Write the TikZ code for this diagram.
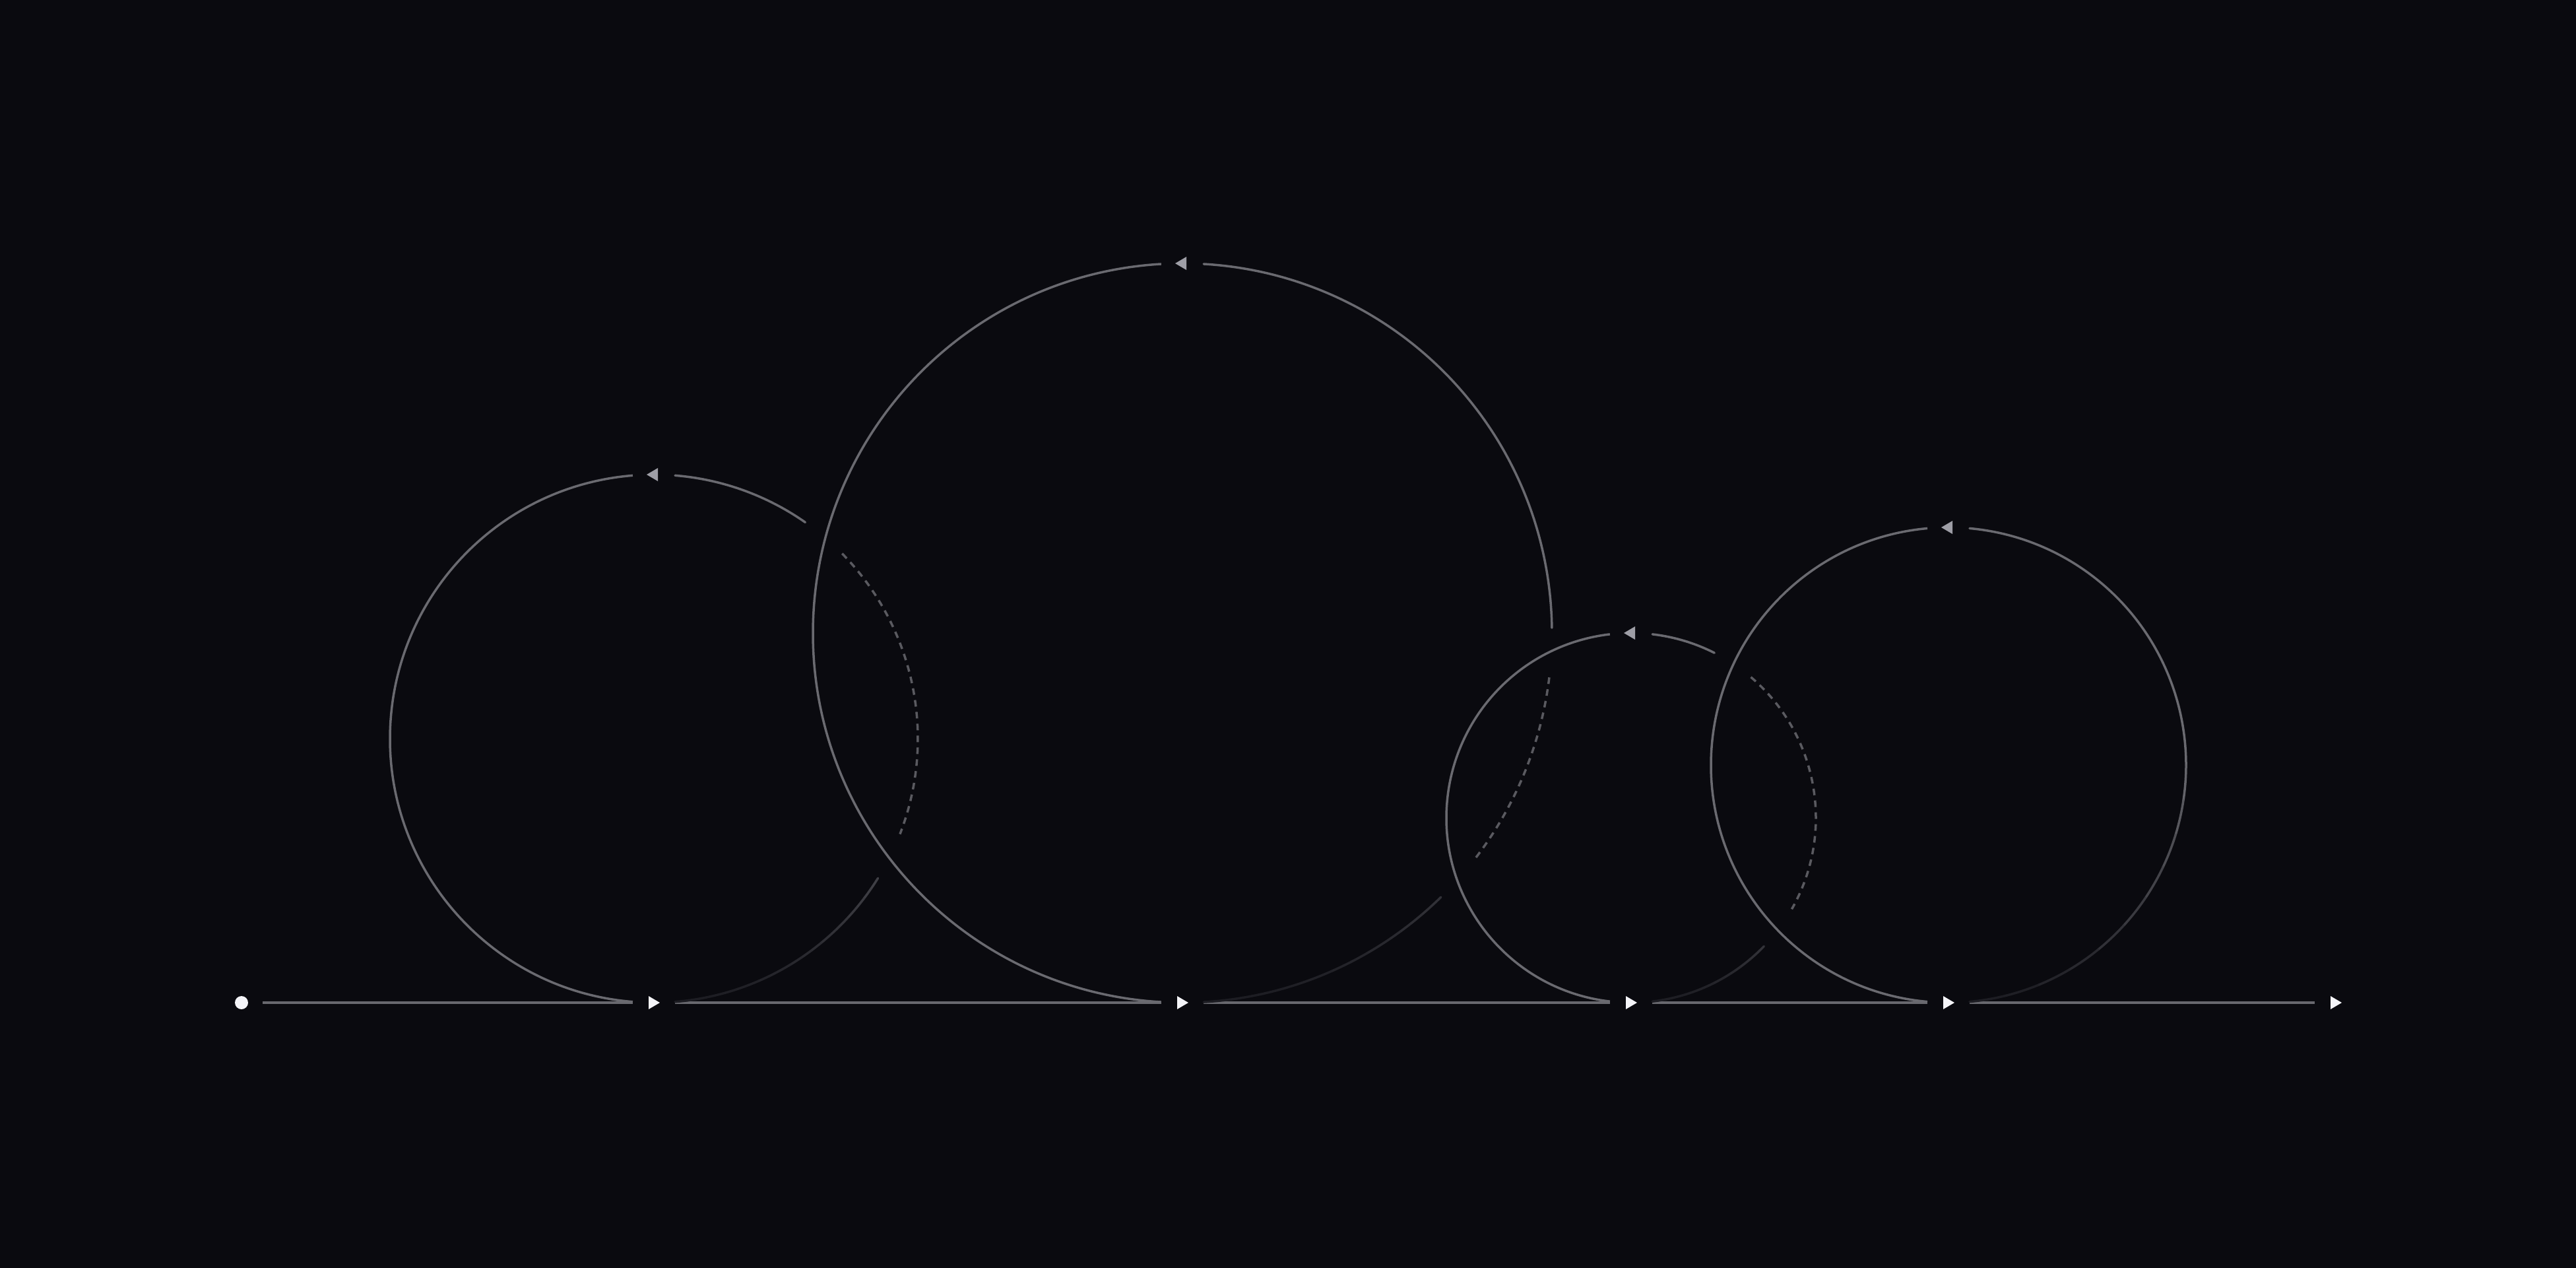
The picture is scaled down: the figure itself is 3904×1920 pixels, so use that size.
\documentclass[tikz,border=0pt]{standalone}
\definecolor{bg}{HTML}{0A0A0F}
\definecolor{ringgrey}{HTML}{6A6A70}
\definecolor{ringdark}{HTML}{1C1C22}
\definecolor{dashgrey}{HTML}{5A5A60}
\definecolor{basegrey}{HTML}{68686E}
\definecolor{headgrey}{HTML}{9E9EA6}
\definecolor{headwhite}{HTML}{F4F4F8}
\begin{document}
\begin{tikzpicture}[x=0.1mm, y=-0.1mm,
    ring/.style={line width=0.35mm, color=ringgrey},
    ringdash/.style={line width=0.35mm, color=dashgrey, dash pattern=on 1mm off 0.8mm},
    base/.style={line width=0.35mm, color=basegrey, shorten <=3.2mm, shorten >=3.2mm},
    fwd/.pic={\fill[headwhite] (-8,-10) -- (9,0) -- (-8,10) -- cycle;},
    back/.pic={\fill[headgrey] (6,-10) -- (-11,0) -- (6,10) -- cycle;}]
    \useasboundingbox (0,0) rectangle (3904,1920);
    \fill[bg] (-10,-10) rectangle (3914,1930);

    % loop centres and the marks on the line
    \coordinate (c1) at (991,1119);
    \coordinate (c2) at (1792,959);
    \coordinate (c3) at (2472,1239);
    \coordinate (c4) at (2953,1159);
    \node[circle, fill=headwhite, inner sep=0pt, minimum size=2mm] (start) at (366,1519) {};
    \foreach \n/\x in {1/991, 2/1792, 3/2472, 4/2953} {
        \coordinate (m\n) at (\x,1519);
        \pic at (m\n) {fwd};
    }
    \coordinate (stop) at (3540,1519);
    \pic at (stop) {fwd};
    \foreach \a/\b in {start/m1, m1/m2, m2/m3, m3/m4, m4/stop} \draw[base] (\a.center) -- (\b.center);

    % left halves
    \foreach \ctr/\rad/\gap in {c1/400/4.6, c2/560/3.3, c3/280/6.6, c4/360/5.1} {
        \draw[ring] (\ctr) ++(90+\gap:\rad) arc[start angle=90+\gap, end angle=270-\gap, radius=\rad];
        \path (\ctr) ++(0,-\rad) pic {back};
    }

    % right halves, fading out towards the line
    \foreach \ctr/\rad/\beg/\fin in {c1/400/274.6/305, c1/400/31.9/85.4, c2/560/273.3/359.2, c2/560/45.6/86.7,
            c3/280/276.6/296.8, c3/280/44/83.4, c4/360/275.1/444.9}
        \foreach \i in {0,...,19} {
            \pgfmathsetmacro\sa{\beg+(\fin-\beg)*\i/20}
            \pgfmathsetmacro\ea{\beg+(\fin-\beg)*(\i+1)/20}
            \pgfmathtruncatemacro\p{max(0,min(100,100*(1-sin((\sa+\ea)/2))))}
            \draw[ring, line cap=round, color=ringgrey!\p!ringdark] (\ctr) ++(\sa:\rad) arc[start angle=\sa, end angle=\ea, radius=\rad];
        }

    % hidden parts
    \foreach \ctr/\rad/\beg/\fin in {c1/400/315.5/381.2, c2/560/366.9/397.5, c3/280/310.4/389.6}
        \draw[ringdash] (\ctr) ++(\beg:\rad) arc[start angle=\beg, end angle=\fin, radius=\rad];
\end{tikzpicture}
\end{document}
